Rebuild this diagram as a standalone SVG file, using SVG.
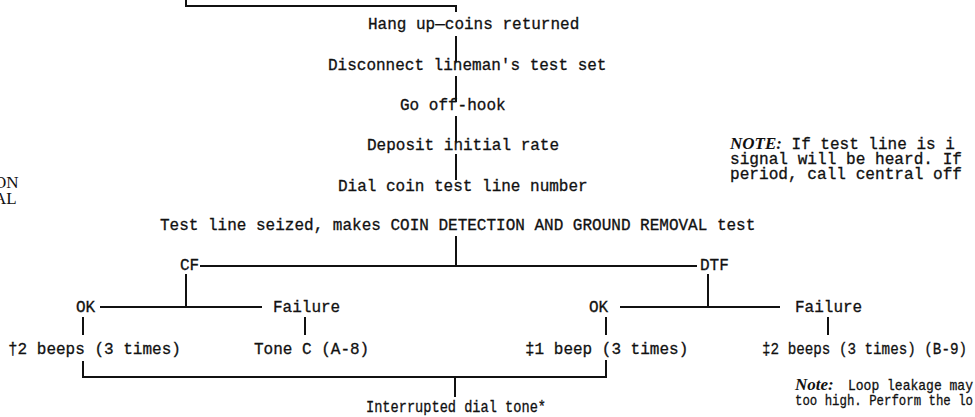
<svg xmlns="http://www.w3.org/2000/svg" width="975" height="417" viewBox="0 0 975 417">
<style>
.t{font-family:"Liberation Mono","Courier New",monospace;font-size:16px;fill:#111;stroke:#111;stroke-width:0.3}
.s{font-family:"Liberation Serif","Times New Roman",serif;font-size:17px;fill:#111}
.n{font-family:"Liberation Serif","Times New Roman",serif;font-weight:bold;font-style:italic;font-size:17px;stroke-width:0}
.sm{font-size:15px}
.c{fill:none;stroke:#111;stroke-width:2}
</style>
<rect width="975" height="417" fill="#fff"/>
<g id="connectors" class="c">
<path d="M186,0 V6 H456 V12"/>
<path d="M456,36 V62 M456,76 V102 M456,116 V142 M456,154 V180"/>
<path d="M456,236 V266 M200,266 H697"/>
<path d="M186,274 V307 M100,307 H262"/>
<path d="M708,274 V307 M620,307 H780"/>
<path d="M83,317 V335 M305,317 V335 M606,317 V335 M828,317 V335"/>
<path d="M83,361 V377 H606 V360 M455,377 V397"/>
</g>
<g id="n-hangup"><text class="t" x="368" y="29">Hang up—coins returned</text></g>
<g id="n-disconnect"><text class="t" x="328" y="70">Disconnect lineman's test set</text></g>
<g id="n-offhook"><text class="t" x="400" y="110">Go off-hook</text></g>
<g id="n-deposit"><text class="t" x="367" y="150">Deposit initial rate</text></g>
<g id="n-dial"><text class="t" x="338" y="191">Dial coin test line number</text></g>
<g id="n-seized"><text class="t" x="160" y="230">Test line seized, makes COIN DETECTION AND GROUND REMOVAL test</text></g>
<g id="n-cf"><text class="t" x="180" y="270">CF</text></g>
<g id="n-dtf"><text class="t" x="700" y="270">DTF</text></g>
<g id="n-ok1"><text class="t" x="76" y="312">OK</text></g>
<g id="n-fail1"><text class="t" x="273" y="312">Failure</text></g>
<g id="n-ok2"><text class="t" x="589" y="312">OK</text></g>
<g id="n-fail2"><text class="t" x="795" y="312">Failure</text></g>
<g id="n-beeps2"><text class="t" x="8" y="354">†2 beeps (3 times)</text></g>
<g id="n-tonec"><text class="t" x="254" y="354">Tone C (A-8)</text></g>
<g id="n-beep1"><text class="t" x="525" y="354">‡1 beep (3 times)</text></g>
<g id="n-beeps2b"><text class="t" x="762" y="354" font-size="15" textLength="205" lengthAdjust="spacingAndGlyphs">‡2 beeps (3 times) (B-9)</text></g>
<g id="n-idt"><text class="t" x="366" y="412" font-size="15" textLength="180" lengthAdjust="spacingAndGlyphs">Interrupted dial tone*</text></g>
<g id="note1">
<text class="t" x="730" y="149" font-size="15"><tspan class="n" font-size="16">NOTE:</tspan> If test line is i</text>
<text class="t" x="730" y="164" font-size="15" textLength="232" lengthAdjust="spacingAndGlyphs">signal will be heard. If</text>
<text class="t" x="730" y="179" font-size="15" textLength="232" lengthAdjust="spacingAndGlyphs">period, call central off</text>
</g>
<g id="note2">
<text class="t sm" x="795" y="390"><tspan class="n" font-size="18">Note:</tspan><tspan x="848" textLength="125" lengthAdjust="spacingAndGlyphs">Loop leakage may</tspan></text>
<text class="t sm" x="795" y="405" textLength="178" lengthAdjust="spacingAndGlyphs">too high. Perform the lo</text>
</g>
<g id="left-text">
<text class="s" x="-6" y="188">ON</text>
<text class="s" x="-6" y="204">AL</text>
</g>
</svg>
